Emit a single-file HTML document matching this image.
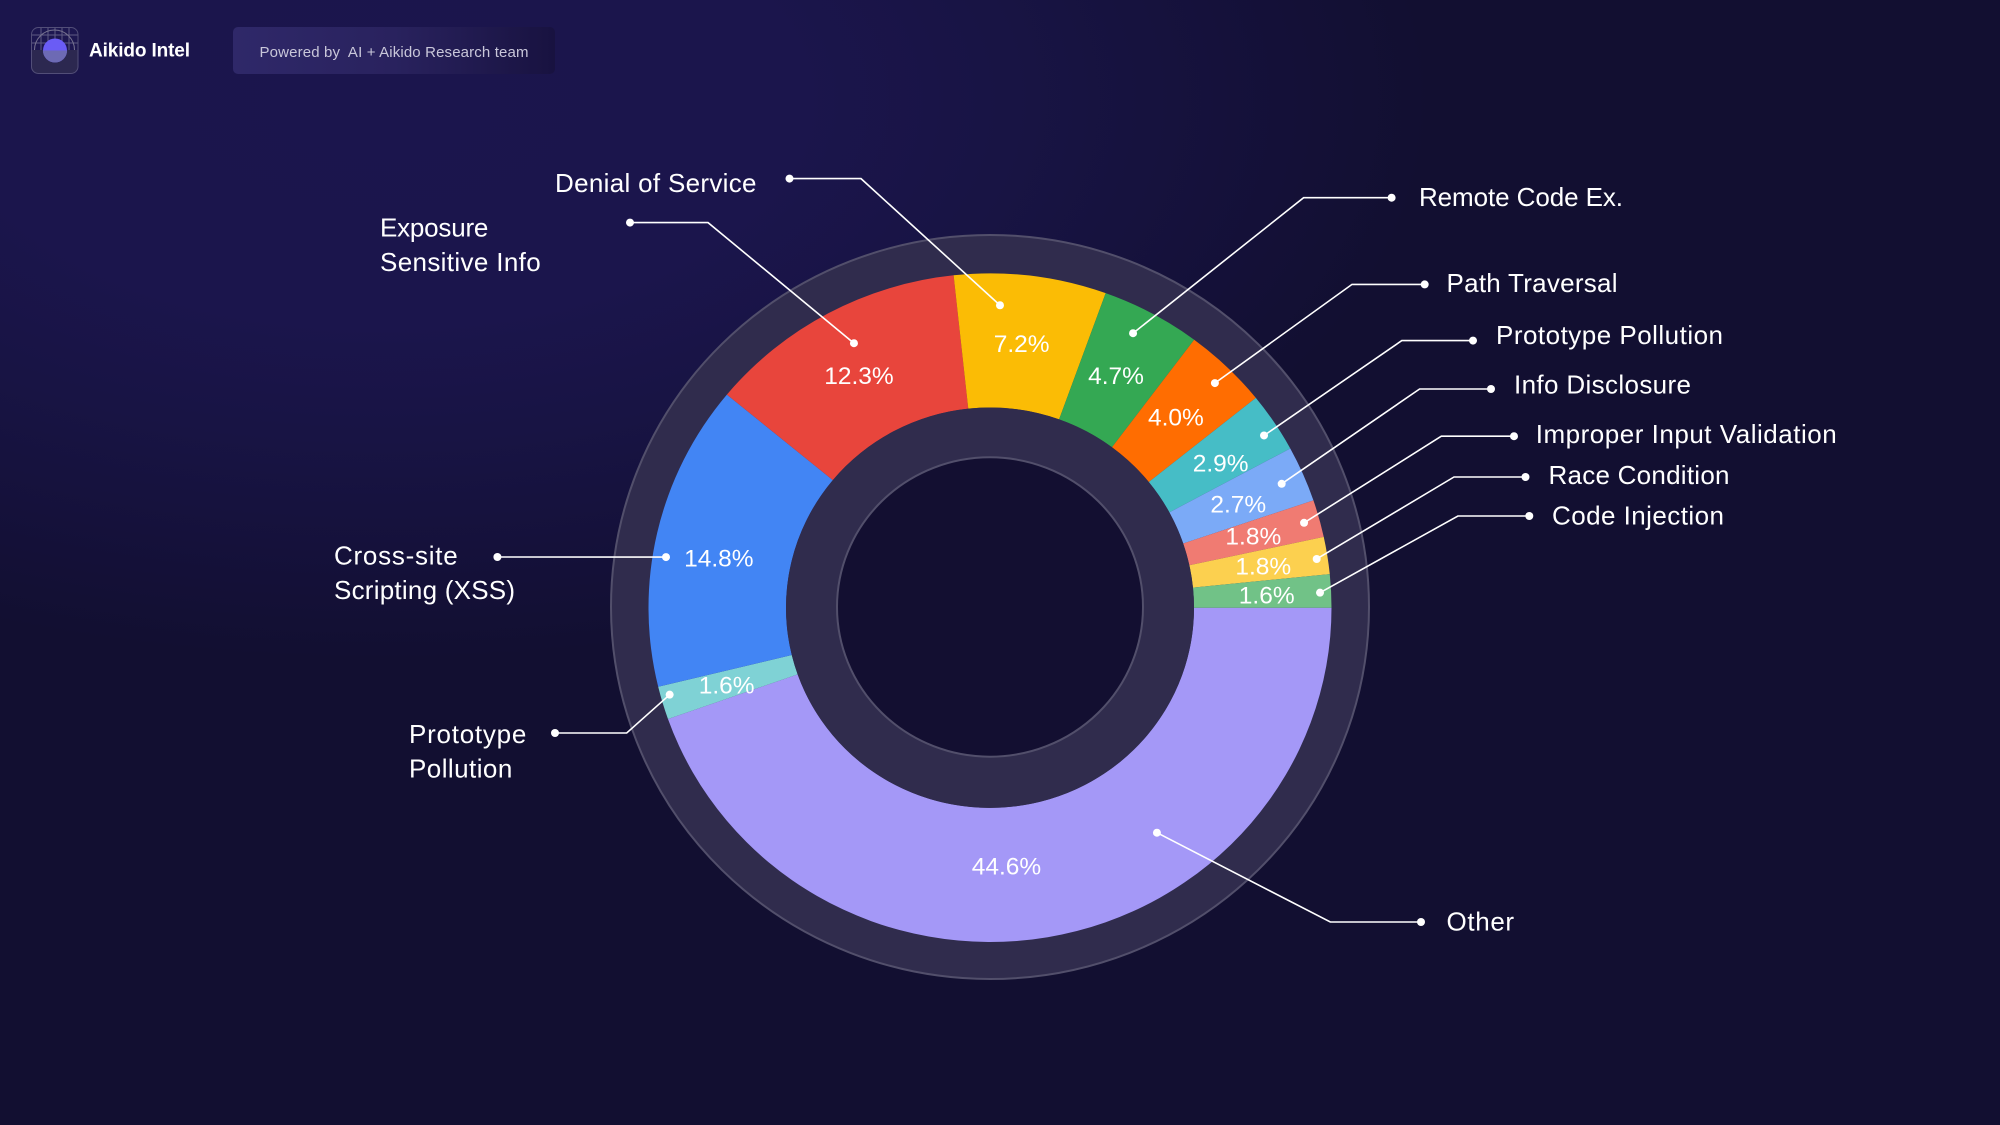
<!DOCTYPE html>
<html lang="en">
<head>
<meta charset="utf-8">
<title>Aikido Intel donut chart</title>
<style>
  html, body { margin: 0; padding: 0; background: #120f31; }
  body { width: 2000px; height: 1125px; overflow: hidden; position: relative; font-family: "Liberation Sans", sans-serif; }
  #page { position: absolute; left: 0; top: 0; width: 2000px; height: 1125px;
    background:
      radial-gradient(ellipse 1050px 560px at 380px 100px, #1b154d 0%, #1b154c 40%, #181444 60%, #15113b 80%, rgba(18,15,49,0) 100%),
      #120f31; }
  svg { position: absolute; left: 0; top: 0; }
  text { font-family: "Liberation Sans", sans-serif; fill: #fff; }
</style>
</head>
<body>
<div id="page">
<svg id="header" width="2000" height="110" viewBox="0 0 2000 110">
  <defs>
    <linearGradient id="badgeGrad" x1="0" x2="1" y1="0" y2="0">
      <stop offset="0" stop-color="#2f2869"/>
      <stop offset="0.5" stop-color="#29225e"/>
      <stop offset="1" stop-color="#181240"/>
    </linearGradient>
    <clipPath id="logoClip"><rect x="31" y="27" width="47" height="47" rx="7"/></clipPath>
  </defs>
  <g clip-path="url(#logoClip)">
    <rect x="31" y="27" width="47" height="47" fill="#1d1750"/>
    <rect x="31" y="50" width="47" height="24" fill="#2c2850"/>
    <path d="M31 35H78M31 43H78M41 27V50M48 27V50M55 27V50M62 27V50M69 27V50" stroke="#5f5b84" stroke-width="1" fill="none"/>
    <path d="M34.500 50a20 20 0 0 1 40 0" fill="none" stroke="#76728f" stroke-width="1"/>
    <circle cx="55" cy="50.500" r="12" fill="#6a5cf5"/>
    <path d="M43 50.500a12 12 0 0 0 24 0z" fill="#6d6ab4"/>
  </g>
  <rect x="31.500" y="27.500" width="46.500" height="46" rx="7" fill="none" stroke="#524e78" stroke-width="1"/>
  <text x="89" y="56.500" font-size="19" font-weight="700" textLength="101">Aikido Intel</text>
  <rect x="233" y="27" width="322" height="47" rx="5" fill="url(#badgeGrad)"/>
  <text x="259.500" y="57" font-size="15" textLength="269" style="fill:#c9c7da" xml:space="preserve">Powered by  AI + Aikido Research team</text>
</svg>
<svg id="chart" width="2000" height="1125" viewBox="0 0 2000 1125"></svg>
</div>
<script>
const categories = ["Other", "Prototype\nPollution", "Cross-site\nScripting (XSS)", "Exposure\nSensitive Info", "Denial of Service", "Remote Code Ex.", "Path Traversal", "Prototype Pollution", "Info Disclosure", "Improper Input Validation", "Race Condition", "Code Injection"];
const seriesValues = [44.6, 1.6, 14.8, 12.3, 7.2, 4.7, 4.0, 2.9, 2.7, 1.8, 1.8, 1.6];
const sliceColors = ["#a498f7", "#7fd2d5", "#4285f4", "#e8453c", "#fbbc05", "#34a853", "#ff6d01", "#46bdc6", "#7baaf7", "#f07b72", "#fcd04f", "#71c287"];

// Annotation layout, separate from the data: offsets from each slice's band centre, and fixed leader elbows/text
const pctOffsets = [[-29.6,-3.7],[-1.9,2.8],[-5.4,11.7],[-1.9,4.6],[-0.8,2.6],[-3.1,4.6],[-3.3,3.3],[3.6,4.9],[-1.7,4.7],[0.5,1.1],[3.9,1.8],[4.3,2.4]];
const dotOffsets = [[120.9,-38.4],[-58.9,10.8],[-58.2,9.3],[-6.9,-29.1],[-22.5,-37.1],[13.9,-39.1],[35.7,-32.1],[47,-24.1],[41.7,-17],[51.2,-13.6],[57.3,-6.9],[57.6,-1.6]];
const leaderElbows = [[1330.3,922],[626.7,733],null,[708,222.6],[861,178.6],[1303.6,197.7],[1352,284.4],[1401.8,340.6],[1419.6,389],[1441.3,436.2],[1454,477],[1457.9,516]];
const leaderEnds = [[1421,922],[555,733],[497.4,557],[630,222.6],[789.5,178.6],[1391.6,197.7],[1424.7,284.4],[1473,340.6],[1491,389],[1514,436.2],[1525.5,477],[1529.3,516]];
const labelAnchors = [[1446.5,921],[409,733.4],[334,555],[380,227],[555,182.4],[1419,196.4],[1446.5,282.7],[1496,334.5],[1514,384],[1535.7,433.7],[1548.5,474.5],[1552,514.9]];
const labelWidths = [[67.6],[117.3,103.3],[123.7,181],[108.4,160.7],[201.5],[204],[171],[227],[177],[301],[181],[172]];

const NS = "http://www.w3.org/2000/svg";
const svg = document.getElementById("chart");
const cx = 990, cy = 607, pieCy = 607.7;
const pieOuter = { rx: 341.5, ry: 334.3 };
const pieInner = { rx: 204, ry: 200.2 };
const total = seriesValues.reduce(function (a, b) { return a + b; }, 0);

function angleOf(value) { return value / total * Math.PI * 2; }
function polar(r, a) { return [cx + r.rx * Math.cos(a), pieCy + r.ry * Math.sin(a)]; }
function add(tag, attrs, parent) {
  const el = document.createElementNS(NS, tag);
  for (const k in attrs) el.setAttribute(k, attrs[k]);
  (parent || svg).appendChild(el);
  return el;
}
function slicePath(a0, a1) {
  const p0 = polar(pieOuter, a0), p1 = polar(pieOuter, a1), p2 = polar(pieInner, a1), p3 = polar(pieInner, a0);
  const large = a1 - a0 > Math.PI ? 1 : 0;
  return "M" + p0 + "A" + pieOuter.rx + " " + pieOuter.ry + " 0 " + large + " 1 " + p1 +
         "L" + p2 + "A" + pieInner.rx + " " + pieInner.ry + " 0 " + large + " 0 " + p3 + "Z";
}

const outerRing = add("ellipse", { cx: cx, cy: cy, rx: 379, ry: 372, fill: "#302c4d", stroke: "#524f6b", "stroke-width": 2 });



let cumulative = 0;
const mids = [];
seriesValues.forEach(function (v, i) {
  const a0 = angleOf(cumulative), a1 = angleOf(cumulative + v);
  cumulative += v;
  mids.push((a0 + a1) / 2);
  const slice = add("path", { d: slicePath(a0, a1), fill: sliceColors[i] });
  
  
});

const innerRing = add("ellipse", { cx: cx, cy: pieCy, rx: pieInner.rx, ry: pieInner.ry, fill: "#302c4d" });


const hole = add("ellipse", { cx: cx, cy: cy, rx: 153, ry: 149.7, fill: "#130f31", stroke: "#524f6b", "stroke-width": 2 });



const midBand = { rx: (pieOuter.rx + pieInner.rx) / 2, ry: (pieOuter.ry + pieInner.ry) / 2 };
seriesValues.forEach(function (v, i) {
  const key = categories[i].replace(/\W+/g, '-').toLowerCase();
  const c = polar(midBand, mids[i]);
  const dot = [c[0] + dotOffsets[i][0], c[1] + dotOffsets[i][1]];
  const pts = [dot];
  if (leaderElbows[i]) pts.push(leaderElbows[i]);
  pts.push(leaderEnds[i]);

  const line = add("polyline", { points: pts.join(" "), fill: "none", stroke: "#fff", "stroke-width": 1.6 });
  
  

  const d1 = add("circle", { cx: dot[0], cy: dot[1], r: 4, fill: "#fff" });
  
  

  const d2 = add("circle", { cx: leaderEnds[i][0], cy: leaderEnds[i][1], r: 4, fill: "#fff" });
  
  

  const pct = add("text", { x: c[0] + pctOffsets[i][0], y: c[1] + pctOffsets[i][1] + 7, "font-size": 24.5, "text-anchor": "middle" });
  pct.textContent = v.toFixed(1) + "%";
  
  

  categories[i].split("\n").forEach(function (lineText, j) {
    const t = add("text", { x: labelAnchors[i][0], y: labelAnchors[i][1] + j * 34.5 + 9.5, "font-size": 26, textLength: labelWidths[i][j] });
    t.textContent = lineText;
    
    
  });
});
</script>
</body>
</html>
